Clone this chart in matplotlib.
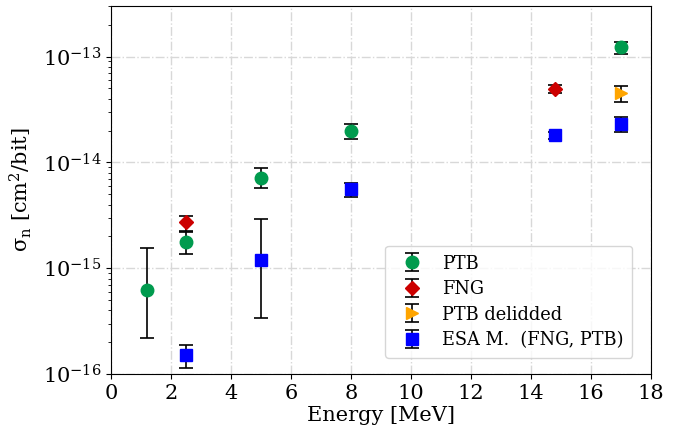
import numpy as np
import matplotlib.pyplot as plt
from matplotlib.ticker import NullFormatter

# ---- data ----
ptb_e = [1.2, 2.5, 5.0, 8.0, 17.0]
ptb_s = [6.3e-16, 1.76e-15, 7.2e-15, 2.0e-14, 1.23e-13]
ptb_lo = [2.2e-16, 1.35e-15, 5.7e-15, 1.65e-14, 1.06e-13]
ptb_hi = [1.55e-15, 2.2e-15, 8.8e-15, 2.3e-14, 1.38e-13]

fng_e = [2.5, 14.8]
fng_s = [2.73e-15, 4.96e-14]
fng_lo = [2.25e-15, 4.5e-14]
fng_hi = [3.15e-15, 5.4e-14]

del_e = [17.0]
del_s = [4.5e-14]
del_lo = [3.7e-14]
del_hi = [5.3e-14]

esa_e = [2.5, 5.0, 8.0, 14.8, 17.0]
esa_s = [1.5e-16, 1.19e-15, 5.6e-15, 1.8e-14, 2.33e-14]
esa_lo = [1.14e-16, 3.4e-16, 4.7e-15, 1.65e-14, 1.93e-14]
esa_hi = [1.89e-16, 2.9e-15, 6.4e-15, 1.95e-14, 2.7e-14]

plt.rcParams["font.family"] = "DejaVu Serif"
plt.rcParams["mathtext.fontset"] = "dejavuserif"

fig, ax = plt.subplots(figsize=(6.78, 4.34), dpi=100)


def yerr(s, lo, hi):
    s = np.array(s)
    return [s - np.array(lo), np.array(hi) - s]


kw = dict(linestyle="none", ecolor="black", elinewidth=1.2, capsize=5, capthick=1.2)
ax.errorbar(ptb_e, ptb_s, yerr=yerr(ptb_s, ptb_lo, ptb_hi), fmt="o", color="#009B4E",
            markersize=9, label="PTB", **kw)
ax.errorbar(fng_e, fng_s, yerr=yerr(fng_s, fng_lo, fng_hi), fmt="D", color="#CC0000",
            markersize=7.5, label="FNG", **kw)
ax.errorbar(del_e, del_s, yerr=yerr(del_s, del_lo, del_hi), fmt=">", color="#FFA500",
            markersize=8, label="PTB delidded", **kw)
ax.errorbar(esa_e, esa_s, yerr=yerr(esa_s, esa_lo, esa_hi), fmt="s", color="#0000FF",
            markersize=8, label="ESA M.  (FNG, PTB)", **kw)

ax.set_yscale("log")
ax.set_xlim(0, 18)
ax.set_ylim(1e-16, 3e-13)
ax.set_xticks(np.arange(0, 19, 2))
ax.yaxis.set_minor_formatter(NullFormatter())
ax.grid(True, which="major", linestyle="-.", color="#d8d8d8", linewidth=1)
ax.set_axisbelow(True)
ax.tick_params(labelsize=15)
ax.set_xlabel("Energy [MeV]", fontsize=15, labelpad=2)
ax.set_ylabel(r"$\mathrm{\sigma_n\ [cm^2/bit]}$", fontsize=15, labelpad=6)
ax.legend(loc="lower right", fontsize=12.8, handletextpad=0.7, borderpad=0.5,
          labelspacing=0.42, bbox_to_anchor=(0.982, 0.02))

fig.subplots_adjust(left=0.164, right=0.960, top=0.986, bottom=0.138)
fig.savefig("out.png", dpi=100)
